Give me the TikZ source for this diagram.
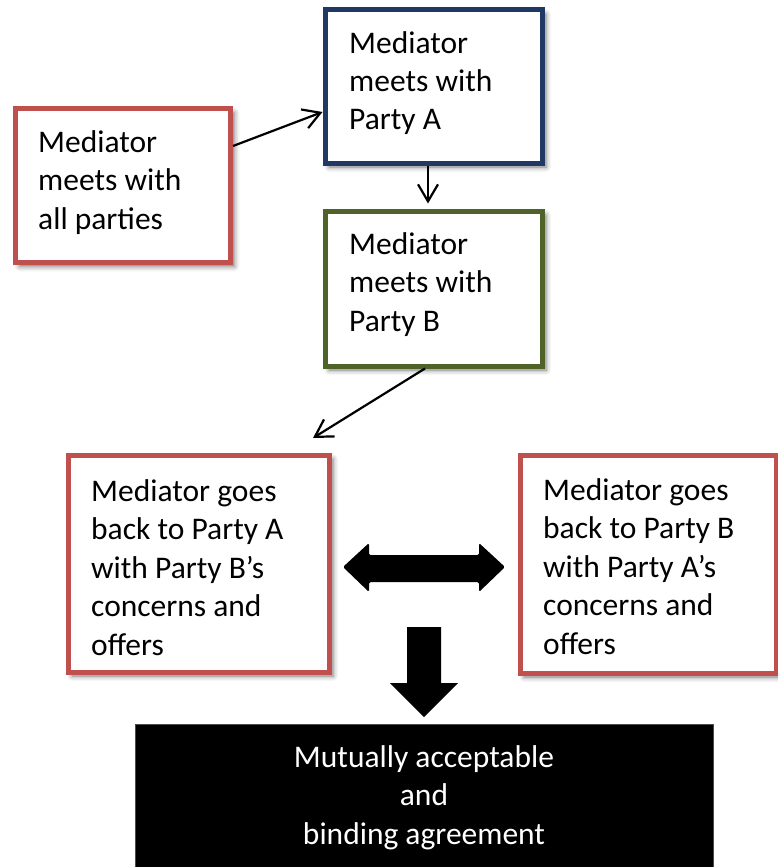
\documentclass[tikz,border=0pt]{standalone}
\usepackage{fontspec}
\setmainfont{Carlito}
\usetikzlibrary{arrows.meta,shadows.blur}
\definecolor{boxred}{HTML}{C0504D}
\definecolor{boxblue}{HTML}{1F3864}
\definecolor{boxgreen}{HTML}{4F6228}
\newcommand\ctrline[1]{\hbox to 400pt{\hfil#1\hfil}}
\begin{document}
\begin{tikzpicture}[x=1pt,y=-1pt,
  box/.style={draw=#1, line width=5pt, fill=white, inner sep=0pt,
    blur shadow={shadow xshift=4pt, shadow yshift=-4pt, shadow blur radius=5pt, shadow opacity=55}},
  txt/.style={font=\fontsize{31.5}{38.5}\selectfont, inner sep=0pt, anchor=base west},
  thinarrow/.style={line width=2.2pt, -{Straight Barb[length=17pt,width=20pt]}},
]
\useasboundingbox (0,0) rectangle (778,867);
\clip (0,0) rectangle (778,867);

\node[box=boxred, minimum width=215pt, minimum height=154pt] (all) at (123,185.5) {};
\node[box=boxblue, minimum width=217pt, minimum height=153pt] (nA) at (433.5,86.5) {};
\node[box=boxgreen, minimum width=217pt, minimum height=155pt] (nB) at (433.5,288.5) {};
\node[box=boxred, minimum width=261pt, minimum height=217pt] (nL) at (198.5,563.5) {};
\node[box=boxred, minimum width=256pt, minimum height=218pt] (nR) at (648,564) {};
\node[fill=black, draw=black!70, line width=0.8pt, minimum width=578pt, minimum height=146pt, inner sep=0pt] (agr) at (424,797) {};

\node[txt] (tall) at (38,152) {\vtop{\hbox{Mediator}\hbox{meets with}\hbox{all parties}}};
\node[txt] (tA) at (349,53) {\vtop{\hbox{Mediator}\hbox{meets with}\hbox{Party A}}};
\node[txt] (tB) at (349,254) {\vtop{\hbox{Mediator}\hbox{meets with}\hbox{Party B}}};
\node[txt] (tL) at (91,501) {\vtop{\hbox{Mediator goes}\hbox{back to Party A}\hbox{with Party B’s}\hbox{concerns and}\hbox{offers}}};
\node[txt] (tR) at (543,500) {\vtop{\hbox{Mediator goes}\hbox{back to Party B}\hbox{with Party A’s}\hbox{concerns and}\hbox{offers}}};
\node[txt, anchor=base, text=white] (tM) at (424,767) {\vtop{\ctrline{Mutually acceptable}\ctrline{and}\ctrline{binding agreement}}};

\draw[thinarrow] ([yshift=39.5pt]all.east) -- ([yshift=-25.5pt]nA.west);
\draw[thinarrow] ([xshift=-5.5pt]nA.south) -- ([xshift=-5.5pt,yshift=5pt]nB.north);
\coordinate (c3) at (313,438);
\draw[thinarrow] ([xshift=-8.5pt]nB.south) -- (c3);

\fill[black, rounded corners=1.5pt] (343,567) -- (369,543) -- (369,555) -- (479,555) -- (479,543) -- (505,567) -- (479,592) -- (479,582) -- (369,582) -- (369,592) -- cycle;
\fill[black] (407,627) -- (441,627) -- (441,683) -- (458,683) -- (424,717) -- (390,683) -- (407,683) -- cycle;
\end{tikzpicture}
\end{document}
